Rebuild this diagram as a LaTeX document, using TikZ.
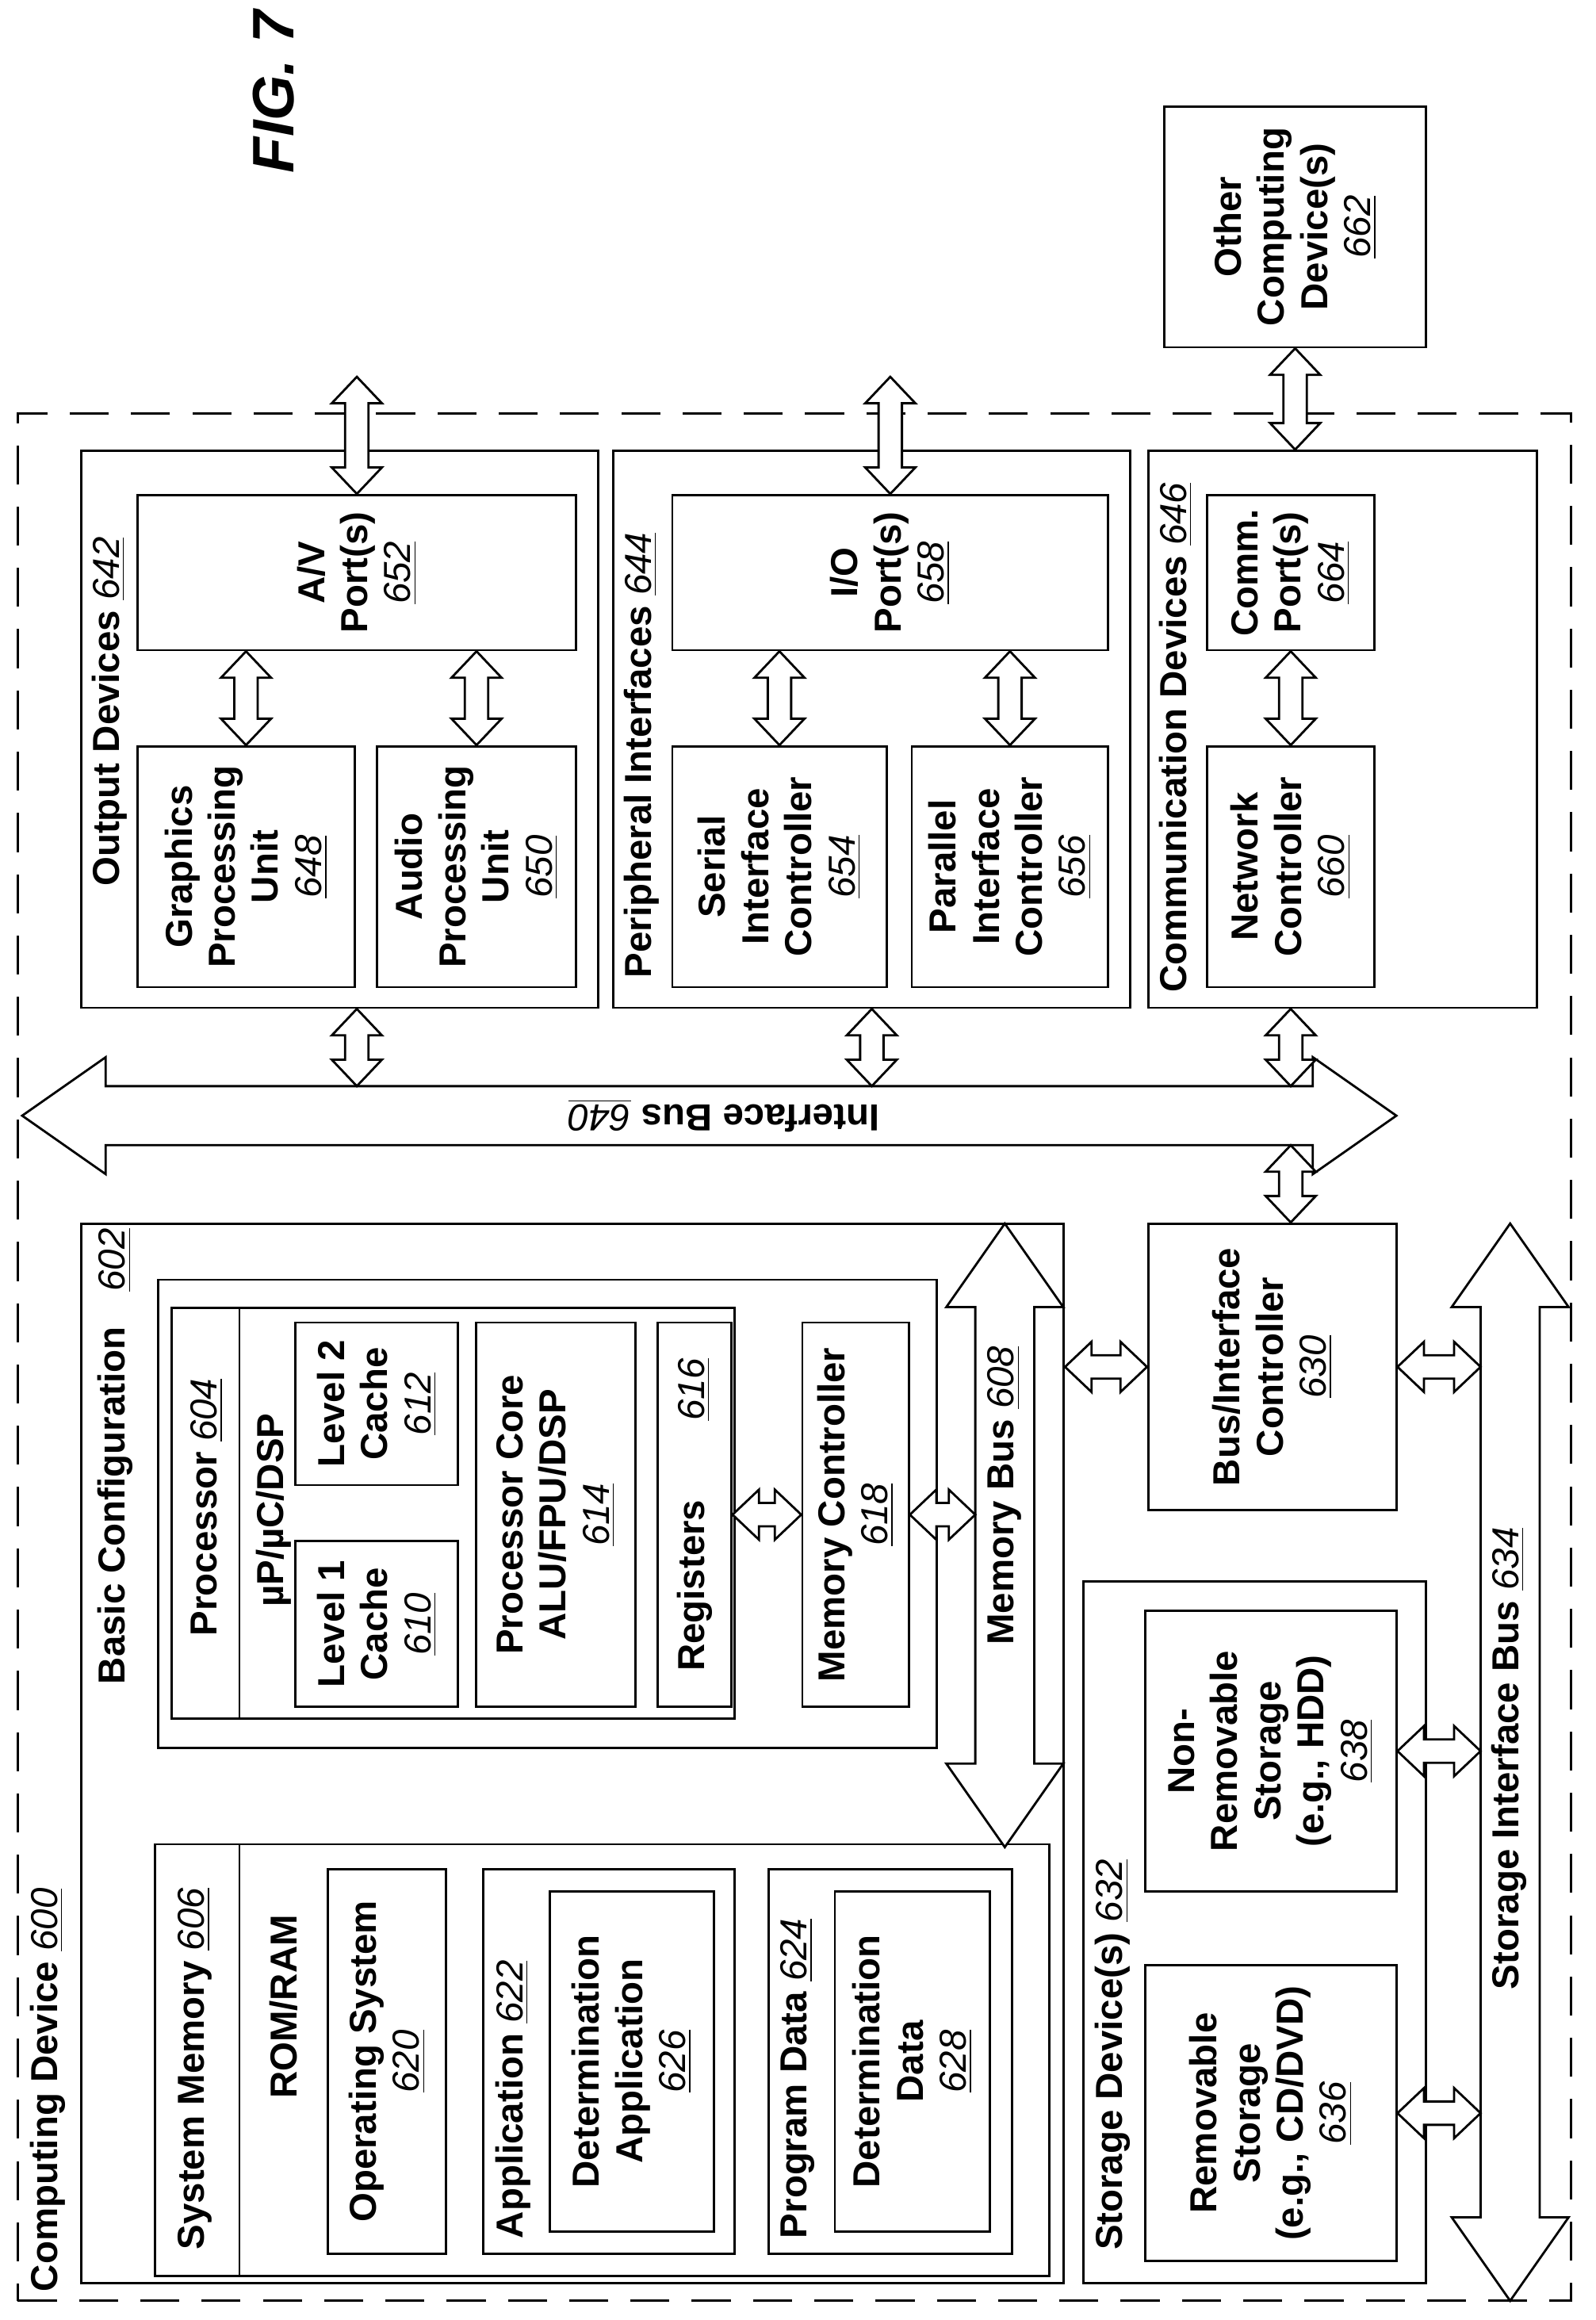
\documentclass[tikz,border=0pt]{standalone}
\usepackage{fontspec}
\setmainfont{Liberation Sans}
\usetikzlibrary{calc}
\def\px{0.01864cm}
\newcommand\num[1]{\underline{\textit{\mdseries #1}}}
% double arrow between two points: half shaft, half head, head length (pt)
\newcommand\dblarrow[5]{%
  \draw[arr] let \p1=(#4), \p2=(#5), \n1={atan2(\y2-\y1,\x2-\x1)}, \n2={veclen(\x2-\x1,\y2-\y1)} in
    [shift={(\p1)}, rotate=\n1] (0,0) -- (#3 pt,#2 pt) -- (#3 pt,#1 pt) -- (\n2-#3 pt,#1 pt) -- (\n2-#3 pt,#2 pt)
    -- (\n2,0) -- (\n2-#3 pt,-#2 pt) -- (\n2-#3 pt,-#1 pt) -- (#3 pt,-#1 pt) -- (#3 pt,-#2 pt) -- cycle;}
\newcommand\darr[2]{\dblarrow{4.2}{9}{9.5}{#1}{#2}}
\newcommand\busarr[2]{\dblarrow{10.6}{21}{30}{#1}{#2}}
\tikzset{
  box/.style={draw, thick, rotate=90, align=center, inner sep=2pt, font=\fontsize{13.5}{15.5}\selectfont\bfseries},
  lbl/.style={rotate=90, anchor=north west, inner sep=1pt, font=\fontsize{13.5}{15.5}\selectfont\bfseries},
  arr/.style={draw, thick, fill=white, line join=miter},
}
\begin{document}
\begin{tikzpicture}[x=\px, y=-\px, font=\fontsize{13.5}{15.5}\selectfont\bfseries]
\useasboundingbox (0,0) rectangle (1080,1570);

% figure title
\node[rotate=90, font=\fontsize{21}{24}\selectfont\bfseries\itshape] (fig) at (185,62) {FIG. 7};

% other computing devices
\node[box, minimum width=163*\px, minimum height=177*\px] (ocd) at (876.5,153.5) {Other\\Computing\\Device(s)\\\num{662}};

% computing device
\node[draw, thick, dashed, dash pattern=on 14pt off 8pt, minimum width=1051*\px, minimum height=1277*\px] (cd) at (537.5,918.5) {};
\node[lbl] (cdl) at (18,1553) {Computing Device \num{600}};

% output devices
\node[box, minimum width=377*\px, minimum height=350*\px] (outdev) at (230,493.5) {};
\node[lbl] (outdevl) at (60,602) {Output Devices \num{642}};
\node[box, minimum width=105*\px, minimum height=297*\px] (av) at (241.5,387.5) {A/V\\Port(s)\\\num{652}};
\node[box, minimum width=163*\px, minimum height=147*\px] (gpu) at (166.5,586.5) {Graphics\\Processing\\Unit\\\num{648}};
\node[box, minimum width=163*\px, minimum height=135*\px] (apu) at (322.5,586.5) {Audio\\Processing\\Unit\\\num{650}};

% peripheral interfaces
\node[box, minimum width=377*\px, minimum height=350*\px] (perif) at (590,493.5) {};
\node[lbl] (perifl) at (420,664) {Peripheral Interfaces \num{644}};
\node[box, minimum width=105*\px, minimum height=295*\px] (io) at (602.5,387.5) {I/O\\Port(s)\\\num{658}};
\node[box, minimum width=163*\px, minimum height=145*\px] (serial) at (527.5,586.5) {Serial\\Interface\\Controller\\\num{654}};
\node[box, minimum width=163*\px, minimum height=133*\px] (parallel) at (683.5,586.5) {Parallel\\Interface\\Controller\\\num{656}};

% communication devices
\node[box, minimum width=377*\px, minimum height=263*\px] (comm) at (908.5,493.5) {};
\node[lbl] (comml) at (782,674) {Communication Devices \num{646}};
\node[box, minimum width=105*\px, minimum height=113*\px] (cport) at (873.5,387.5) {Comm.\\Port(s)\\\num{664}};
\node[box, minimum width=163*\px, minimum height=113*\px] (netc) at (873.5,586.5) {Network\\Controller\\\num{660}};

% basic configuration
\node[box, minimum width=717*\px, minimum height=665*\px] (basic) at (387.5,1186.5) {};
\node[lbl] (basicl) at (64,1142) {Basic Configuration\hspace{0.45cm}\num{602}};
\node[box, minimum width=317*\px, minimum height=527*\px] (bcin) at (370.5,1024.5) {};
\node[box, minimum width=278*\px, minimum height=381*\px] (proc) at (306.5,1024) {};
\draw[thick] (162,885) -- (162,1163);
\node[rotate=90] (procl) at (140,1020) {Processor \num{604}};
\node[rotate=90] (upl) at (185,1022) {µP/µC/DSP};
\node[box, minimum width=110*\px, minimum height=110*\px] (l2) at (255,950) {Level 2\\Cache\\\num{612}};
\node[box, minimum width=112*\px, minimum height=110*\px] (l1) at (255,1099) {Level 1\\Cache\\\num{610}};
\node[box, minimum width=260*\px, minimum height=108*\px] (core) at (376,1025) {Processor Core\\ALU/FPU/DSP\\\num{614}};
\node[box, minimum width=260*\px, minimum height=50*\px] (reg) at (470,1025) {Registers\hspace{1cm}\num{616}};
\node[box, minimum width=260*\px, minimum height=72*\px] (memc) at (579,1025) {Memory Controller\\\num{618}};

% system memory
\node[box, minimum width=292*\px, minimum height=605*\px] (sysmem) at (407.5,1394) {};
\draw[thick] (162,1248) -- (162,1540);
\node[rotate=90] (sysmeml) at (132,1400) {System Memory \num{606}};
\node[rotate=90] (rom) at (192,1358) {ROM/RAM};
\node[box, minimum width=260*\px, minimum height=80*\px] (os) at (262,1395) {Operating System\\\num{620}};
\node[box, minimum width=260*\px, minimum height=170*\px] (app) at (412,1395) {};
\node[lbl] (appl) at (333,1517) {Application \num{622}};
\node[box, minimum width=230*\px, minimum height=111*\px] (dapp) at (427.5,1395) {Determination\\Application\\\num{626}};
\node[box, minimum width=260*\px, minimum height=165*\px] (pdata) at (602.5,1395) {};
\node[lbl] (pdatal) at (526,1517) {Program Data \num{624}};
\node[box, minimum width=230*\px, minimum height=105*\px] (ddata) at (617.5,1395) {Determination\\Data\\\num{628}};

% bus/interface controller and storage
\node[box, minimum width=194*\px, minimum height=168*\px] (bic) at (861,925) {Bus/Interface\\Controller\\\num{630}};
\node[box, minimum width=475*\px, minimum height=232*\px] (stor) at (849,1307.5) {};
\node[lbl] (storl) at (739,1525) {Storage Device(s) \num{632}};
\node[box, minimum width=190*\px, minimum height=170*\px] (nrs) at (860,1185) {Non-\\Removable\\Storage\\(e.g., HDD)\\\num{638}};
\node[box, minimum width=200*\px, minimum height=170*\px] (rs) at (860,1430) {Removable\\Storage\\(e.g., CD/DVD)\\\num{636}};

% buses
\coordinate (ibL) at (15,755);
\coordinate (ibR) at (945,755);
\coordinate (mbT) at (680,828);
\coordinate (mbB) at (680,1250);
\coordinate (sbT) at (1022,828);
\coordinate (sbB) at (1022,1557);
\busarr{ibL}{ibR}
\busarr{mbT}{mbB}
\busarr{sbT}{sbB}
\node[rotate=180] (ibl) at (490,755) {Interface Bus \num{640}};
\node[rotate=90] (mbl) at (680,1012) {Memory Bus \num{608}};
\node[rotate=90] (sbl) at (1021,1190) {Storage Interface Bus \num{634}};

% connectors
\coordinate (avtop) at (av.center |- 0,255);
\coordinate (iotop) at (io.center |- 0,255);
\darr{ocd.west}{ocd.west |- comm.east}
\darr{av.east}{avtop}
\darr{io.east}{iotop}
\darr{gpu.east}{gpu.east |- av.west}
\darr{apu.east}{apu.east |- av.west}
\darr{serial.east}{serial.east |- io.west}
\darr{parallel.east}{parallel.east |- io.west}
\darr{netc.east}{netc.east |- cport.west}
\darr{av.center |- outdev.west}{$(av.center |- ibL)+(0,-20)$}
\darr{perif.center |- perif.west}{$(perif.center |- ibL)+(0,-20)$}
\darr{netc.center |- comm.west}{$(netc.center |- ibL)+(0,-20)$}
\darr{$(netc.center |- ibL)+(0,20)$}{netc.center |- bic.east}
\darr{basic.south |- bic.north}{bic.north}
\darr{bic.south}{$(sbT |- bic.south)+(-20,0)$}
\darr{reg.south}{memc.north}
\darr{memc.south}{$(mbT |- memc.south)+(-20,0)$}
\darr{nrs.south}{$(sbT |- nrs.south)+(-20,0)$}
\darr{rs.south}{$(sbT |- rs.south)+(-20,0)$}
\end{tikzpicture}
\end{document}
